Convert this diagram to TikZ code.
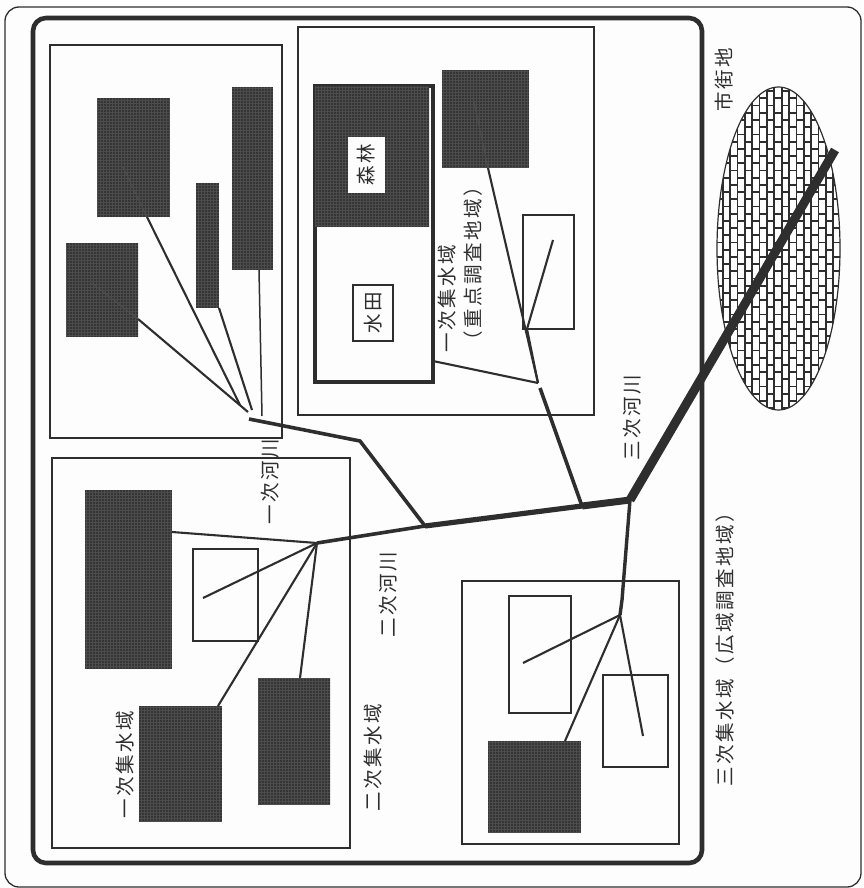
\documentclass[tikz,border=0pt]{standalone}
\usepackage{fontspec}
\setmainfont{Liberation Sans}
\newfontfamily\jpfont[LetterSpace=13]{Noto Sans CJK JP}
\usetikzlibrary{shapes.geometric}
\definecolor{ink}{HTML}{2E2E2E}
\definecolor{forest}{HTML}{353535}
\definecolor{screen}{HTML}{4C4C4C}
\definecolor{paper}{HTML}{FDFDFD}
\tikzset{
  frameA/.style={draw=ink,rounded corners=14pt,line width=1.3pt},
  frameB/.style={draw=ink,rounded corners=13pt,line width=4.6pt},
  area/.style={draw=ink,line width=1.4pt},
  cell/.style={rectangle,inner sep=0pt,outer sep=0pt,anchor=north west},
  darkbox/.style={cell,fill=forest,path picture={\draw[screen,line width=.5pt]
     (path picture bounding box.south west) grid[xstep=3pt,ystep=3pt] (path picture bounding box.north east);}},
  whitebox/.style={cell,draw=ink,line width=1.4pt,fill=paper},
  thin river/.style={draw=ink,line width=2.1pt},
  faint river/.style={draw=screen,line width=1.2pt},
  label/.style={inner sep=0pt,rotate=90,text=ink,font=\jpfont\fontsize{19.5}{20}\selectfont},
}
\newcommand{\rbox}[6]{\node[#2,minimum width={(#5-#3)*1pt},minimum height={(#6-#4)*1pt}] (#1) at (#3,#4) {};}
\begin{document}
\begin{tikzpicture}[x=1pt,y=-1pt]
\useasboundingbox (0,0) rectangle (863,888);
\fill[paper] (0,0) rectangle (863,888);
% frames
\draw[frameA] (5,7) rectangle (861,887);
\draw[frameB] (33,18) rectangle (702,863);
% catchment areas
\rbox{areaA}{cell,area}{50}{45}{282}{438}
\rbox{areaB}{cell,area}{52}{458}{350}{848}
\rbox{areaC}{cell,area}{298}{27}{594}{415}
\rbox{areaD}{cell,area}{462}{581}{679}{844}
% junctions
\coordinate (J1) at (249,419);
\coordinate (J2) at (317,543);
\coordinate (J3) at (538,383);
\coordinate (J4) at (620,615);
\coordinate (K1) at (360,441);
\coordinate (K2) at (425,526);
\coordinate (K3) at (582,506);
\coordinate (K4) at (630,500);
\coordinate (K5) at (622,600);
\coordinate (K6) at (540,388);
\coordinate (E1) at (835,150);
% area A
\rbox{a1}{darkbox}{97}{98}{170}{217}
\rbox{a2}{darkbox}{66}{243}{138}{337}
\rbox{a3}{darkbox}{196}{183}{219}{308}
\rbox{a4}{darkbox}{232}{87}{273}{270}
% area B
\rbox{b1}{darkbox}{85}{490}{172}{669}
\rbox{b2}{whitebox}{193}{549}{258}{641}
\rbox{b3}{darkbox}{139}{706}{222}{822}
\rbox{b4}{darkbox}{258}{678}{330}{805}
% area C
\rbox{c3}{darkbox}{442}{70}{529}{168}
\rbox{c4}{whitebox}{523}{215}{574}{329}
\rbox{paddy}{cell,draw=ink,line width=4.4pt,fill=paper}{315}{86}{433}{382}
\rbox{wood}{darkbox}{315}{86}{429}{227}
\rbox{woodlabel}{cell,fill=paper}{348}{137}{385}{193}
\rbox{paddylabel}{whitebox}{353}{285}{393}{341}
% area D
\rbox{d1}{whitebox}{509}{596}{571}{713}
\rbox{d2}{whitebox}{603}{675}{668}{767}
\rbox{d3}{darkbox}{488}{741}{581}{833}
% city ellipse
\begin{scope}
\clip (778.5,248.5) ellipse [x radius=61.5pt,y radius=161.5pt];
\fill[white] (710,80) rectangle (850,420);
\foreach \i in {0,...,17}{
  \pgfmathsetmacro{\cx}{715.5+7.35*\i}
  \draw[ink,line width=1.7pt] (\cx,80) -- (\cx,420);
  \pgfmathsetmacro{\off}{mod(\i,2)*7.2}
  \foreach \j in {0,...,24}{
    \pgfmathsetmacro{\cy}{84+\off+14.4*\j}
    \draw[ink,line width=1.8pt] (\cx,\cy) -- (\cx+7.35,\cy);
  }
}
\end{scope}
\node[ellipse,draw=ink,line width=1.2pt,inner sep=0pt,minimum width=123pt,minimum height=323pt] (city) at (778.5,248.5) {};
% faint parts of lines over forest
\draw[faint river] ([xshift=26pt,yshift=-69pt]a1.north west) -- ([xshift=50pt]a1.south west);
\draw[faint river] ([xshift=26pt,yshift=-40pt]a2.north west) -- ([yshift=18pt]a2.south east);
\draw[faint river] ([xshift=31pt,yshift=-27pt]c3.north west) -- ([xshift=46pt]c3.south west);
% tributaries A
\draw[thin river] ([xshift=50pt]a1.south west) -- ([xshift=-9pt,yshift=14pt]J1);
\draw[thin river] ([yshift=18pt]a2.south east) -- ([xshift=-1pt,yshift=7pt]J1);
\draw[thin river] (a3.south east) -- ([xshift=3pt,yshift=9pt]J1);
\draw[thin river,line width=1.5pt] ([xshift=27pt]a4.south west) -- ([xshift=13pt,yshift=3pt]J1);
% tributaries B
\draw[thin river] ([yshift=-42pt]b1.north east) -- (J2);
\draw[thin river] ([xshift=10pt,yshift=-49pt]b2.north west) -- (J2);
\draw[thin river] ([xshift=79pt]b3.north west) -- (J2);
\draw[thin river] ([xshift=42pt]b4.north west) -- (J2);
% tributaries C
\draw[thin river] ([yshift=21pt]paddy.south east) -- (J3);
\draw[thin river] ([xshift=46pt]c3.south west) -- (J3);
\draw[thin river] ([xshift=30pt,yshift=-25pt]c4.north west) -- ([xshift=4pt]c4.south west) -- (J3);
% tributaries D
\draw[thin river] ([xshift=14pt,yshift=-67pt]d1.north west) -- (J4);
\draw[thin river] ([xshift=40pt,yshift=-61pt]d2.north west) -- (J4);
\draw[thin river] ([xshift=77pt]d3.north west) -- (J4);
% main stems
\draw[ink,line width=3.6pt,line join=round] (J1) -- (K1) -- (K2);
\draw[ink,line width=3.6pt] (J2) -- (K2);
\draw[ink,line width=3.6pt] (K6) -- (K3);
\draw[ink,line width=3.4pt] (K4) -- (K5) -- (J4);
\draw[ink,line width=5.2pt] (K2) -- (K3);
\draw[ink,line width=7pt] (K3) -- (K4);
\draw[ink,line width=9pt,line join=round] (K4) -- (E1);
% labels
\node[label] (lCity) at (724,80) {市街地};
\node[label] (lPri) at (447,299) {一次集水域};
\node[label] (lFocus) at (473,264) {（重点調査地域）};
\node[label] (lR1) at (270,482) {一次河川};
\node[label] (lR2) at (388,595) {二次河川};
\node[label] (lR3) at (632,418) {三次河川};
\node[label] (lSec) at (373,758) {二次集水域};
\node[label] (lPri2) at (125,765) {一次集水域};
\node[label] (lTer) at (725,645) {三次集水域（広域調査地域）};
\node[label] (lWood) at (woodlabel.center) {森林};
\node[label] (lPaddy) at (paddylabel.center) {水田};
\end{tikzpicture}
\end{document}
